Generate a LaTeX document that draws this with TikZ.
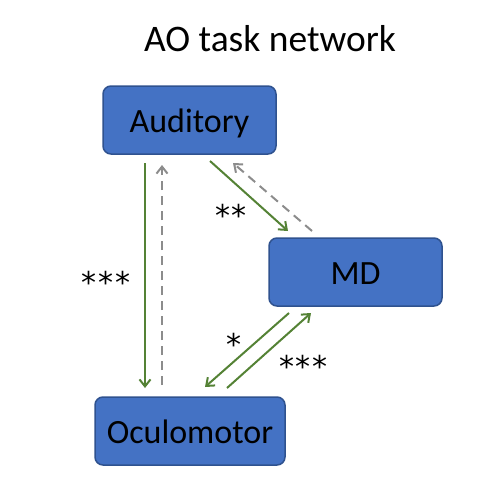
\documentclass[tikz,border=0pt]{standalone}
\usepackage{fontspec}
\setmainfont{Carlito}
\newfontfamily\starfont{DejaVu Sans}
\usetikzlibrary{arrows.meta}
\definecolor{boxfill}{HTML}{4472C4}
\definecolor{boxline}{HTML}{2F528F}
\definecolor{grn}{HTML}{548235}
\definecolor{gry}{HTML}{8C8C8C}
\newcommand{\gapstar}{\kern2pt}
\tikzset{
  region/.style={draw=boxline, line width=1.5pt, fill=boxfill, rounded corners=8pt, text=black, inner sep=0pt, minimum height=68pt},
  lbl/.style={font=\fontsize{34}{38}\selectfont, anchor=base, inner sep=0pt},
  sig/.style={draw=grn, line width=2pt, -{Straight Barb[length=7pt,width=11pt,line width=2pt]}},
  ns/.style={draw=gry, line width=2pt, dash pattern=on 9pt off 6pt, -{Straight Barb[length=7pt,width=11pt,line width=2pt]}},
  stars/.style={font=\starfont\fontsize{30}{30}\selectfont, inner sep=0pt, anchor=base}
}
\begin{document}
\begin{tikzpicture}[x=1pt,y=-1pt]
\useasboundingbox (0,0) rectangle (483,495);
\node[font=\fontsize{37.5}{42}\selectfont, anchor=base, inner sep=0pt] (title) at (270,52) {AO task network};
\node[region, minimum width=173pt] (aud) at (189.5,120) {};
\node[lbl] (audt) at (189.5,132) {Auditory};
\node[region, minimum width=173pt] (md) at (355.5,272) {};
\node[lbl] (mdt) at (355.5,284) {MD};
\node[region, minimum width=190pt] (ocu) at (190,431) {};
\node[lbl] (ocut) at (190,443) {Oculomotor};
\coordinate (a1) at (145,163);
\coordinate (o1) at (145,388);
\coordinate (o2) at (162,385);
\coordinate (a2) at (162,165);
\coordinate (a3) at (210,161);
\coordinate (m1) at (288,231);
\coordinate (m2) at (312,231);
\coordinate (a4) at (233,163);
\coordinate (m3) at (289,313);
\coordinate (o3) at (205,387);
\coordinate (o4) at (227,388);
\coordinate (m4) at (311,313);
\draw[sig] (a1) -- (o1);
\draw[ns] (o2) -- (a2);
\draw[sig] (a3) -- (m1);
\draw[ns] (m2) -- (a4);
\draw[sig] (m3) -- (o3);
\draw[sig] (o4) -- (m4);
\node[stars] (s1) at (106,293.5) {*\gapstar*\gapstar*};
\node[stars] (s2) at (231,226) {*\gapstar*};
\node[stars] (s3) at (234,355) {*};
\node[stars] (s4) at (303.5,377) {*\gapstar*\gapstar*};
\end{tikzpicture}
\end{document}
